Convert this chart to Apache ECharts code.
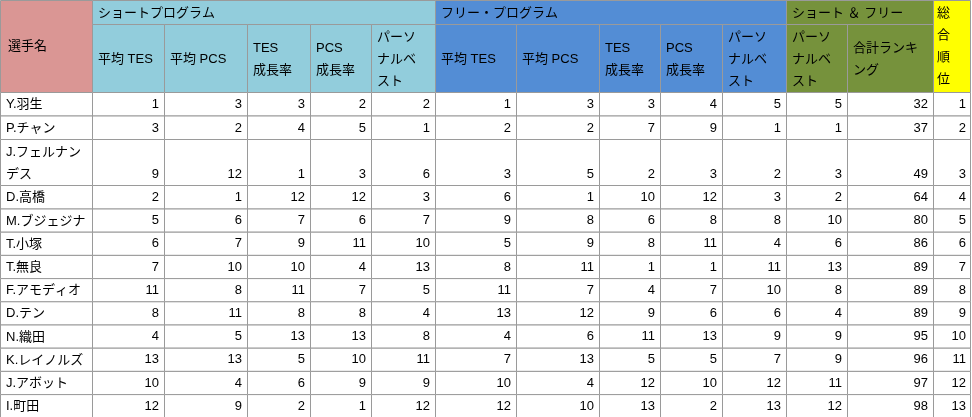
<!DOCTYPE html>
<html><head><meta charset="utf-8">
<script src="https://cdn.jsdelivr.net/npm/echarts@6/dist/echarts.min.js"></script>
<style>html,body{margin:0;padding:0;background:#fff}#c{width:972px;height:417px}</style>
</head><body><div id="c"></div>
<script>
const players = ['Y.羽生','P.チャン','J.フェルナン\nデス','D.高橋','M.ブジェジナ','T.小塚','T.無良','F.アモディオ','D.テン','N.織田','K.レイノルズ','J.アボット','I.町田'];
const shortTES = [1,3,9,2,5,6,7,11,8,4,13,10,12];
const shortPCS = [3,2,12,1,6,7,10,8,11,5,13,4,9];
const shortTESg = [3,4,1,12,7,9,10,11,8,13,5,6,2];
const shortPCSg = [2,5,3,12,6,11,4,7,8,13,10,9,1];
const shortPB = [2,1,6,3,7,10,13,5,4,8,11,9,12];
const freeTES = [1,2,3,6,9,5,8,11,13,4,7,10,12];
const freePCS = [3,2,5,1,8,9,11,7,12,6,13,4,10];
const freeTESg = [3,7,2,10,6,8,1,4,9,11,5,12,13];
const freePCSg = [4,9,3,12,8,11,1,7,6,13,5,10,2];
const freePB = [5,1,2,3,8,4,11,10,6,9,7,12,13];
const sfPB = [5,1,3,2,10,6,13,8,4,9,9,11,12];
const totalRank = [32,37,49,64,80,86,89,89,89,95,96,97,98];
const overall = [1,2,3,4,5,6,7,8,9,10,11,12,13];
const groupTitles = ['ショートプログラム','フリー・プログラム','ショート ＆ フリー'];
const subHeaders = ['平均 TES','平均 PCS','TES\n成長率','PCS\n成長率','パーソ\nナルベ\nスト','平均 TES','平均 PCS','TES\n成長率','PCS\n成長率','パーソ\nナルベ\nスト','パーソ\nナルベ\nスト','合計ランキ\nング'];

const cols = [shortTES,shortPCS,shortTESg,shortPCSg,shortPB,freeTES,freePCS,freeTESg,freePCSg,freePB,sfPB,totalRank,overall];
const xs = [0,92,164,247,310,371,435,516,599,660,722,786,847,933,971];
const rowH = [23.5,23.5,46,23.5,23.2,23.2,23.2,23.2,23.2,23.2,23.2,23.2,23.2];
const headTop=0, head1=24, head2=92;
const line='#9a9a9a', font='"Liberation Sans","Noto Sans CJK JP",sans-serif';
const cShort='#92CDDC', cFree='#538DD5', cSF='#76923C', cName='#DA9694', cAll='#FFFF00';
const els=[];
function rect(x,y,w,h,fill){els.push({type:'rect',shape:{x:x,y:y,width:w,height:h},style:{fill:fill,stroke:line,lineWidth:1}});}
function txt(x,y,s,align,vAlign,lh){els.push({type:'text',x:x,y:y,style:{text:s,font:'13px '+font,fill:'#000',align:align||'left',verticalAlign:vAlign||'middle',lineHeight:lh||22}});}
// header
rect(xs[0]+0.5,0.5,xs[1]-xs[0],head2,cName); txt(8,head2/2,'選手名');
const groups=[[1,6,cShort],[6,11,cFree],[11,13,cSF]];
groups.forEach((g,i)=>{rect(xs[g[0]]+0.5,0.5,xs[g[1]]-xs[g[0]],head1,g[2]);txt(xs[g[0]]+6,head1/2+1,groupTitles[i]);
 for(let c=g[0];c<g[1];c++){rect(xs[c]+0.5,head1+0.5,xs[c+1]-xs[c],head2-head1,g[2]);txt(xs[c]+6,(head1+head2)/2+1,subHeaders[c-1]);}});
rect(xs[13]+0.5,0.5,xs[14]-xs[13]-1,head2,cAll); txt(xs[13]+4,head2/2,'総\n合\n順\n位','left','middle',22);
// body
let y=head2;
players.forEach((p,r)=>{const h=rowH[r];
 rect(xs[0]+0.5,y+0.5,xs[1]-xs[0],h,'#fff'); txt(6,y+h/2+1,p);
 cols.forEach((col,c)=>{rect(xs[c+1]+0.5,y+0.5,xs[c+2]-xs[c+1]-(c===12?1:0),h,'#fff');txt(xs[c+2]-5,y+h-11,String(col[r]),'right');});
 y+=h;});
const chart=echarts.init(document.getElementById('c'));
chart.setOption({animation:false,graphic:{elements:els}});
</script></body></html>
